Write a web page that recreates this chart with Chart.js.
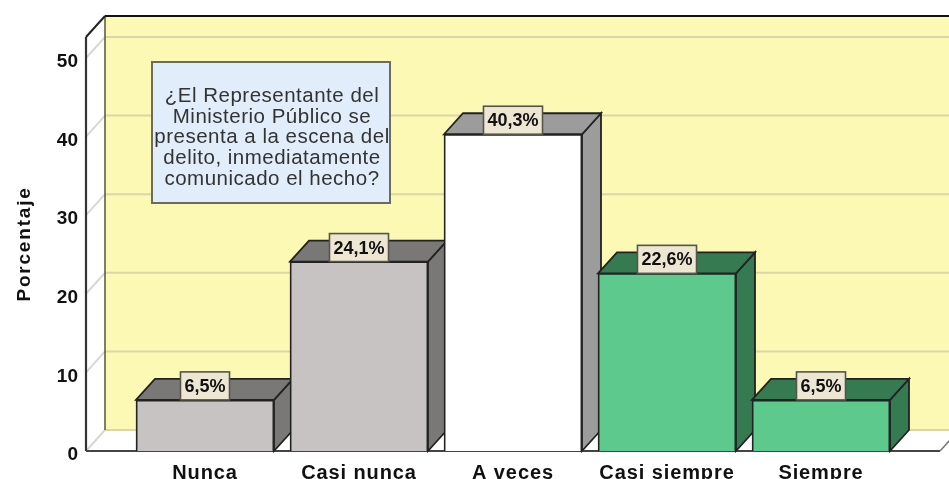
<!DOCTYPE html>
<html><head><meta charset="utf-8">
<style>html,body{margin:0;padding:0;background:#fff;overflow:hidden}canvas{display:block;filter:blur(0.35px)}</style>
<script src="https://cdn.jsdelivr.net/npm/chart.js@4/dist/chart.umd.min.js"></script>
</head><body><canvas id="c" width="949" height="479"></canvas>
<script>
const categories = ["Nunca","Casi nunca","A veces","Casi siempre","Siempre"];
const values = [6.5,24.1,40.3,22.6,6.5];
const valueLabels = ["6,5%","24,1%","40,3%","22,6%","6,5%"];
const frontColors = ["#c6c3c2","#c6c3c2","#ffffff","#5dc98c","#5dc98c"];
const sideColors = ["#7a7876","#7a7876","#9c9c9c","#367a52","#367a52"];
const noteLines = ["¿El Representante del","Ministerio Público se","presenta a la escena del","delito, inmediatamente","comunicado el hecho?"];
const axisTitle = "Porcentaje";
const FONT = '"Liberation Sans", Arial, sans-serif';
const DX = 19, DY = -21;

function poly(ctx, pts, fill, stroke, lw){
  ctx.beginPath();
  pts.forEach((p,i)=> i?ctx.lineTo(p[0],p[1]):ctx.moveTo(p[0],p[1]));
  ctx.closePath();
  if(fill){ctx.fillStyle=fill;ctx.fill();}
  if(stroke){ctx.strokeStyle=stroke;ctx.lineWidth=lw||1;ctx.stroke();}
}
function line(ctx,x1,y1,x2,y2,c,w){
  ctx.beginPath();ctx.moveTo(x1,y1);ctx.lineTo(x2,y2);ctx.strokeStyle=c;ctx.lineWidth=w;ctx.stroke();
}
const box3d = {
  id:'box3d',
  beforeDraw(chart){
    const x=chart.scales.x, y=chart.scales.y, ctx=chart.ctx;
    if(!x._ls){
      x._ls=true;
      const dl=x.drawLabels; x.drawLabels=function(a){ctx.save();ctx.letterSpacing='0.9px';dl.call(this,a);ctx.restore();};
      const dt=y.drawTitle; y.drawTitle=function(a){ctx.save();ctx.letterSpacing='1.8px';dt.call(this,a);ctx.restore();};
    }
  },
  beforeDatasetsDraw(chart){
    const ctx=chart.ctx,{left,right,top,bottom}=chart.chartArea,y=chart.scales.y;
    const W=chart.width;
    ctx.save();
    poly(ctx,[[left,bottom],[left,top],[left+DX,top+DY],[left+DX,bottom+DY]],'#ffffff');
    poly(ctx,[[left,bottom],[left+DX,bottom+DY],[right+DX,bottom+DY],[right,bottom]],'#ffffff');
    poly(ctx,[[left+DX,top+DY],[right+DX,top+DY],[right+DX,bottom+DY],[left+DX,bottom+DY]],'#fbf9b3');
    y.ticks.forEach(t=>{
      const p=y.getPixelForValue(t.value);
      line(ctx,left,p,left+DX,p+DY,'#d8d8d0',2);
      if(t.value>0) line(ctx,left+DX,p+DY,right+DX,p+DY,'#d9d7a8',2);
    });
    line(ctx,left+DX,bottom+DY,right+DX,bottom+DY,'#d9d7a8',2);
    line(ctx,left+DX,top+DY,left+DX,bottom+DY,'#55553a',1.5);
    line(ctx,left+DX,top+DY,W+2,top+DY,'#111',2);
    line(ctx,left,top,left+DX,top+DY,'#222',2);
    line(ctx,left,top,left,bottom,'#333',2.2);
    line(ctx,left,bottom,right,bottom,'#444',2.2);
    line(ctx,right,bottom,right+DX,bottom+DY,'#777',1.5);
    const bars=chart.getDatasetMeta(0).data;
    bars.forEach((b,i)=>{
      const l=b.x-b.width/2,r=b.x+b.width/2,t=b.y,bo=b.base;
      poly(ctx,[[r,t],[r+DX,t+DY],[r+DX,bo+DY],[r,bo]],sideColors[i],'#222',1.8);
      poly(ctx,[[l,t],[l+DX,t+DY],[r+DX,t+DY],[r,t]],sideColors[i],'#222',1.8);
    });
    ctx.restore();
  },
  afterDatasetsDraw(chart){
    const ctx=chart.ctx,bars=chart.getDatasetMeta(0).data;
    ctx.save();
    ctx.font='bold 18px '+FONT;ctx.textAlign='center';ctx.textBaseline='middle';
    bars.forEach((b,i)=>{
      const w=ctx.measureText(valueLabels[i]).width+8,h=28;
      const cx=b.x;
      ctx.fillStyle='#ede6d3';ctx.strokeStyle='#55554a';ctx.lineWidth=1.6;
      ctx.fillRect(cx-w/2,b.y-h,w,h);ctx.strokeRect(cx-w/2,b.y-h,w,h);
      ctx.fillStyle='#111';ctx.fillText(valueLabels[i],cx,b.y-h/2+1);
    });
    ctx.fillStyle='#e1edfb';ctx.strokeStyle='#6b6b5e';ctx.lineWidth=2;
    ctx.fillRect(152,62,238,141);ctx.strokeRect(152,62,238,141);
    ctx.font='20.5px '+FONT;ctx.fillStyle='#333';ctx.letterSpacing='0.5px';
    noteLines.forEach((s,i)=>ctx.fillText(s,272,96+i*20.9));
    ctx.restore();
  }
};
new Chart(document.getElementById('c'),{
  type:'bar',
  data:{datasets:[{
    data:values.map((v,i)=>({x:i,y:v})),
    backgroundColor:frontColors,borderColor:'#222',borderWidth:1.8,
    barThickness:138
  }]},
  plugins:[box3d],
  options:{
    responsive:false,animation:false,
    layout:{padding:{top:37,right:9,left:0,bottom:0}},
    plugins:{legend:{display:false},tooltip:{enabled:false}},
    scales:{
      x:{type:'linear',offset:false,min:-0.7727,max:4.7727,
        grid:{display:false,drawTicks:false},border:{display:false},
        afterBuildTicks(s){s.ticks=categories.map((_,i)=>({value:i}));},
        afterFit(s){s.height=28;},
        ticks:{callback:v=>categories[v],autoSkip:false,maxRotation:0,minRotation:0,padding:10,
          color:'#111',font:{family:FONT,size:20,weight:'bold'}}
      },
      y:{min:0,max:52.67,
        grid:{display:false,drawTicks:false},border:{display:false},
        afterFit(s){s.width=86;},
        title:{display:true,text:axisTitle,color:'#111',padding:{top:13,bottom:0},
          font:{family:FONT,size:19,weight:'bold'}},
        ticks:{stepSize:10,includeBounds:false,padding:8,labelOffset:4,color:'#111',
          font:{family:FONT,size:19,weight:'bold'}}
      }
    }
  }
});
</script></body></html>
